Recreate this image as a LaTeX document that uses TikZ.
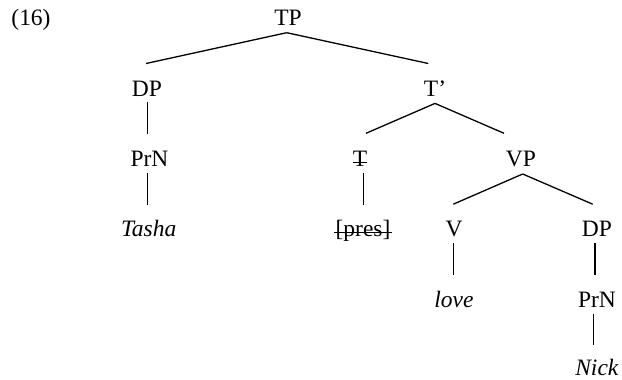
\documentclass[tikz,border=0pt]{standalone}
\usepackage{fontspec}
\setmainfont{Liberation Serif}
\begin{document}
\begin{tikzpicture}[x=1pt,y=-1pt,
  lab/.style={font=\fontsize{23.5}{28}\selectfont, anchor=base, inner sep=0pt},
  edge/.style={line width=1.3pt},
  strike/.style={line width=1.2pt}]
\useasboundingbox (0,0) rectangle (622,380);
\node[lab] (ex) at (31,26) {(16)};
\node[lab] (TP) at (288,26) {TP};
\node[lab] (DP1) at (147,96.7) {DP};
\node[lab] (Tbar) at (435,96.7) {T’};
\node[lab] (PrN1) at (149.5,166.7) {PrN};
\node[lab] (Tasha) at (148.7,236.7) {\textit{Tasha}};
\node[lab] (T) at (360,166.5) {T};
\node[lab] (VP) at (521,166.7) {VP};
\node[lab] (pres) at (363,236.7) {[pres]};
\node[lab] (V) at (454,236.7) {V};
\node[lab] (DP2) at (597,236.7) {DP};
\node[lab] (love) at (454,307) {\textit{love}};
\node[lab] (PrN2) at (597,307) {PrN};
\node[lab] (Nick) at (597,375.5) {\textit{Nick}};
% strike-outs
\draw[strike] ([yshift=4pt]T.base west) -- ([yshift=4pt]T.base east);
\draw[strike] ([xshift=-1pt,yshift=4pt]pres.base west) -- ([xshift=1pt,yshift=4pt]pres.base east);
% branches
\draw[edge] ([xshift=-1.3pt,yshift=-6.7pt]TP.base) -- ([xshift=-1pt,yshift=33.2pt]DP1.base);
\draw[edge] ([xshift=-1.3pt,yshift=-6.7pt]TP.base) -- ([xshift=-6.7pt,yshift=33.2pt]Tbar.base);
\draw[edge] ([xshift=0.3pt,yshift=-5pt]DP1.base) -- ([xshift=-2.2pt,yshift=32.5pt]PrN1.base);
\draw[edge] ([xshift=-2.2pt,yshift=-6.5pt]PrN1.base) -- ([xshift=-1.4pt,yshift=31.7pt]Tasha.base);
\draw[edge] ([yshift=-6.7pt]Tbar.base) -- ([xshift=6pt,yshift=33.2pt]T.base);
\draw[edge] ([yshift=-6.7pt]Tbar.base) -- ([xshift=-17pt,yshift=33.4pt]VP.base);
\draw[edge] ([xshift=3.3pt,yshift=-6.5pt]T.base) -- ([xshift=0.3pt,yshift=31.7pt]pres.base);
\draw[edge] ([xshift=1.7pt,yshift=-7.3pt]VP.base) -- ([xshift=-0.7pt,yshift=32.5pt]V.base);
\draw[edge] ([xshift=1.7pt,yshift=-7.3pt]VP.base) -- ([xshift=-4.3pt,yshift=32.5pt]DP2.base);
\draw[edge] ([xshift=-0.7pt,yshift=-6.5pt]V.base) -- ([xshift=-0.7pt,yshift=32pt]love.base);
\draw[edge] ([xshift=-2pt,yshift=-6.5pt]DP2.base) -- ([xshift=-2pt,yshift=32pt]PrN2.base);
\draw[edge] ([xshift=-3.7pt,yshift=-6.5pt]PrN2.base) -- ([xshift=-3.7pt,yshift=30.5pt]Nick.base);
\end{tikzpicture}
\end{document}
